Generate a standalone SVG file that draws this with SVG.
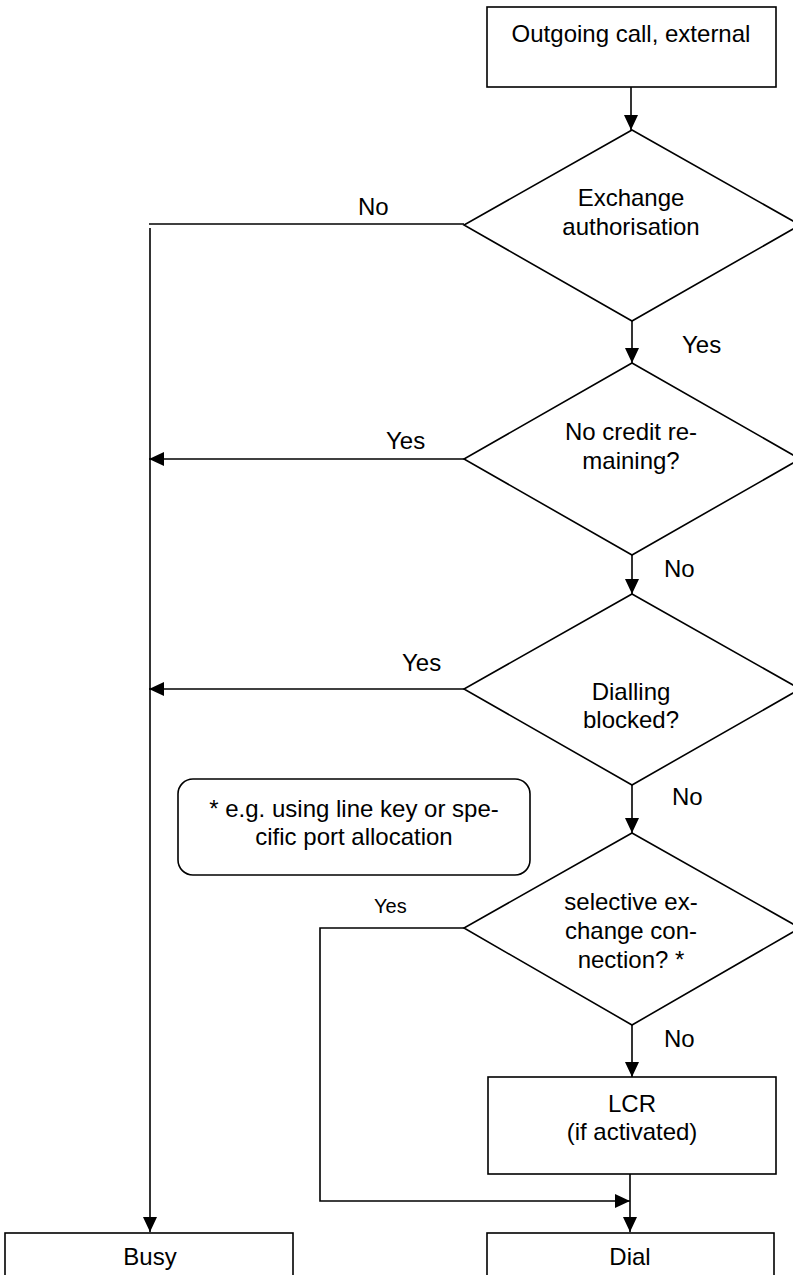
<svg xmlns="http://www.w3.org/2000/svg" width="793" height="1275" viewBox="0 0 793 1275">
<style>
.shape{fill:#fff;stroke:#000;stroke-width:1.6}
.line{fill:none;stroke:#000;stroke-width:1.6}
text{font-family:"Liberation Sans",Arial,Helvetica,sans-serif;font-size:24px;fill:#000}
.c{text-anchor:middle}
.s{font-size:20px}
</style>
<defs>
<marker id="arr" markerUnits="userSpaceOnUse" markerWidth="15" markerHeight="14" refX="15" refY="7" orient="auto">
<path d="M0,0 L15,7 L0,14 z" fill="#000"/>
</marker>
</defs>
<rect width="793" height="1275" fill="#fff"/>
<g id="connectors">
<path class="line" d="M631,87 V130" marker-end="url(#arr)"/>
<path class="line" d="M464,224 H149"/>
<path class="line" d="M150,228 V1232" marker-end="url(#arr)"/>
<path class="line" d="M632,321 V363" marker-end="url(#arr)"/>
<path class="line" d="M464,459 H149" marker-end="url(#arr)"/>
<path class="line" d="M632,555 V594" marker-end="url(#arr)"/>
<path class="line" d="M464,689 H149" marker-end="url(#arr)"/>
<path class="line" d="M632,785 V833" marker-end="url(#arr)"/>
<path class="line" d="M464,928 H320 V1201 H630" marker-end="url(#arr)"/>
<path class="line" d="M632,1025 V1077" marker-end="url(#arr)"/>
<path class="line" d="M630,1174 V1232" marker-end="url(#arr)"/>
<text x="358" y="215">No</text>
<text x="682" y="353">Yes</text>
<text x="386" y="449">Yes</text>
<text x="664" y="577">No</text>
<text x="402" y="671">Yes</text>
<text x="672" y="805">No</text>
<text class="s" x="374" y="913">Yes</text>
<text x="664" y="1047">No</text>
</g>
<g id="start">
<rect class="shape" x="487" y="7" width="289" height="80"/>
<text class="c" x="631" y="42">Outgoing call, external</text>
</g>
<g id="exchange-authorisation">
<path class="shape" d="M632,130 L800,225 L632,321 L464,225 Z"/>
<text class="c" x="631" y="206">Exchange</text>
<text class="c" x="631" y="235">authorisation</text>
</g>
<g id="no-credit">
<path class="shape" d="M632,363 L800,459 L632,555 L464,459 Z"/>
<text class="c" x="631" y="440">No credit re-</text>
<text class="c" x="631" y="469">maining?</text>
</g>
<g id="dialling-blocked">
<path class="shape" d="M632,594 L800,689 L632,785 L464,689 Z"/>
<text class="c" x="631" y="700">Dialling</text>
<text class="c" x="631" y="728">blocked?</text>
</g>
<g id="note">
<rect class="shape" x="178" y="779" width="352" height="96" rx="15" ry="15"/>
<text class="c" x="354" y="817">* e.g. using line key or spe-</text>
<text class="c" x="354" y="845">cific port allocation</text>
</g>
<g id="selective">
<path class="shape" d="M632,833 L800,928 L632,1025 L464,928 Z"/>
<text class="c" x="631" y="910">selective ex-</text>
<text class="c" x="631" y="939">change con-</text>
<text class="c" x="631" y="968">nection? *</text>
</g>
<g id="lcr">
<rect class="shape" x="488" y="1077" width="288" height="97"/>
<text class="c" x="632" y="1112">LCR</text>
<text class="c" x="632" y="1140">(if activated)</text>
</g>
<g id="busy">
<rect class="shape" x="5" y="1233" width="288" height="60"/>
<text class="c" x="150" y="1265">Busy</text>
</g>
<g id="dial">
<rect class="shape" x="487" y="1233" width="287" height="60"/>
<text class="c" x="630" y="1265">Dial</text>
</g>
</svg>
